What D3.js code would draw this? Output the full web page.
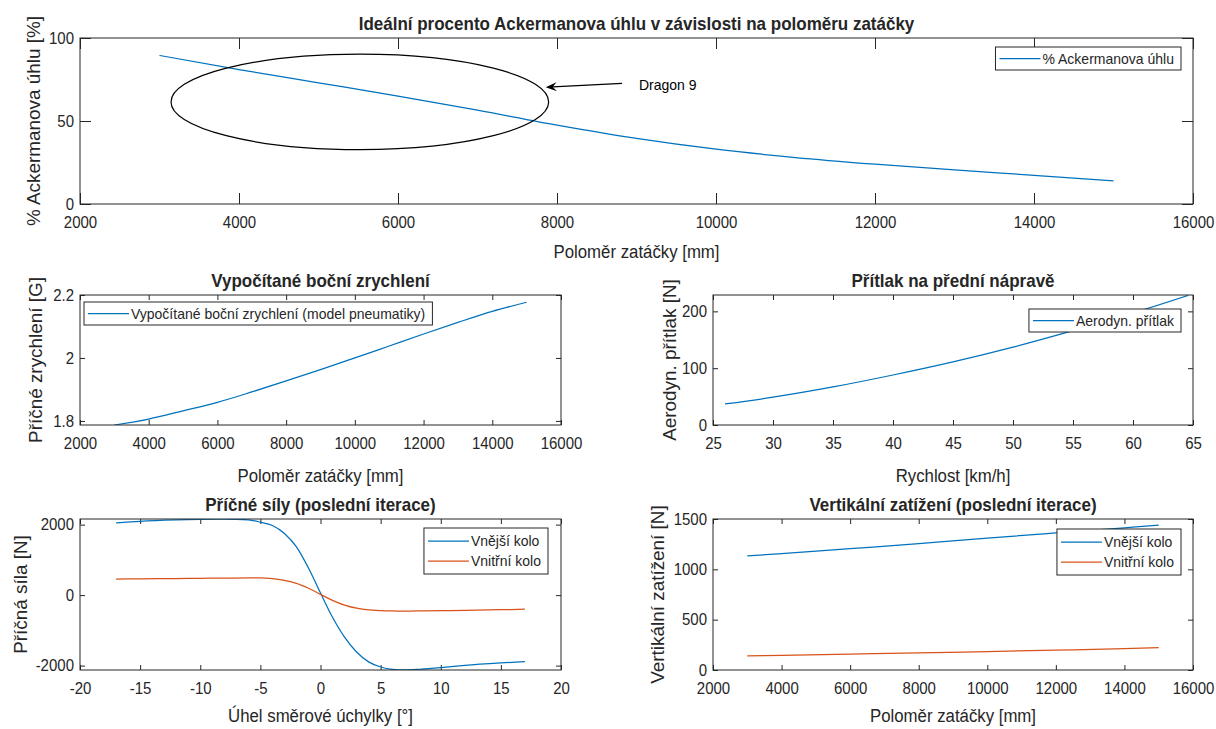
<!DOCTYPE html>
<html>
<head>
<meta charset="utf-8">
<script src="https://cdn.jsdelivr.net/npm/d3@7"></script>
<style>
  html, body { margin: 0; padding: 0; background: #ffffff; }
  svg text { font-family: "Liberation Sans", Arial, Helvetica, sans-serif; fill: #262626; }
</style>
</head>
<body>
<svg id="fig" width="1216" height="729"></svg>
<script>
// ---- Ideal Ackermann percentage vs. turn radius ----
const ackRadius  = [3000, 4000, 5000, 6000, 7000, 8000, 9000, 10000, 11000, 12000, 13000, 14000, 15000];
const ackPercent = [89.5, 81, 73, 65, 56.5, 47.5, 39.5, 33, 28, 24, 20.5, 17.3, 14];

// ---- Lateral acceleration from the tyre model ----
const accRadius  = [3000, 4000, 5000, 6000, 7000, 8000, 9000, 10000, 11000, 12000, 13000, 14000, 15000];
const accLateral = [1.787, 1.806, 1.832, 1.859, 1.892, 1.927, 1.963, 2.0, 2.038, 2.076, 2.113, 2.148, 2.177];

// ---- Front-axle aerodynamic downforce ----
const speedKmh   = [26, 30, 35, 40, 45, 50, 55, 60, 64.6];
const downforceN = [37, 49, 67, 88, 111, 137, 166, 197, 228];

// ---- Lateral tyre forces vs. slip angle (last iteration) ----
const slipDeg = [-17, -15, -12, -10, -8, -6, -5, -4, -3, -2, -1, 0, 1, 2, 3, 4, 5, 6, 7, 8, 10, 12, 15, 17];
const fyOuter = [2050, 2095, 2135, 2152, 2158, 2135, 2070, 1975, 1750, 1370, 770, 60, -630, -1195, -1615, -1895, -2040, -2105, -2121, -2110, -2055, -1995, -1925, -1885];
const fyInner = [456, 462, 470, 476, 482, 490, 490, 470, 418, 335, 195, 20, -150, -285, -372, -422, -442, -450, -452, -450, -442, -432, -414, -400];

// ---- Vertical wheel loads vs. turn radius (last iteration) ----
const loadRadius = [3000, 4000, 6000, 8000, 10000, 12000, 14000, 15000];
const fzOuter    = [1133, 1155, 1205, 1255, 1310, 1362, 1413, 1438];
const fzInner    = [140, 146, 158, 170, 183, 197, 212, 223];

// ---- Tick values and tick labels ----
const radiusTicks  = [2000, 4000, 6000, 8000, 10000, 12000, 14000, 16000];
const radiusLabels = ["2000", "4000", "6000", "8000", "10000", "12000", "14000", "16000"];
const pctTicks     = [0, 50, 100];
const pctLabels    = ["0", "50", "100"];
const accTicks     = [1.8, 2, 2.2];
const accLabels    = ["1.8", "2", "2.2"];
const speedTicks   = [25, 30, 35, 40, 45, 50, 55, 60, 65];
const speedLabels  = ["25", "30", "35", "40", "45", "50", "55", "60", "65"];
const downTicks    = [0, 100, 200];
const downLabels   = ["0", "100", "200"];
const slipTicks    = [-20, -15, -10, -5, 0, 5, 10, 15, 20];
const slipLabels   = ["-20", "-15", "-10", "-5", "0", "5", "10", "15", "20"];
const fyTicks      = [-2000, 0, 2000];
const fyLabels     = ["-2000", "0", "2000"];
const fzTicks      = [0, 500, 1000, 1500];
const fzLabels     = ["0", "500", "1000", "1500"];

const BLUE = "#0072BD";
const ORANGE = "#D95319";
const INK = "#262626";
const FONT = '"Liberation Sans", Arial, Helvetica, sans-serif';
const TEXT_STRETCH = 1.08;   // glyphs are drawn slightly taller than wide

const svg = d3.select("#fig");
svg.append("rect").attr("width", 1216).attr("height", 729).attr("fill", "#ffffff");

// Place a text element at (x, y) with the vertical glyph stretch applied.
function placeText(sel, x, y, rotate) {
  sel.attr("x", 0).attr("y", 0)
     .attr("transform", `translate(${x},${y}) scale(1,${TEXT_STRETCH})` + (rotate ? ` rotate(${rotate})` : ""));
  return sel;
}

let clipId = 0;

function panel(o) {
  const g = svg.append("g");
  const x = d3.scaleLinear().domain(o.xDomain).range([o.left, o.right]);
  const y = d3.scaleLinear().domain(o.yDomain).range([o.bottom, o.top]);
  const tl = o.tickLen;

  g.append("rect")
    .attr("x", o.left).attr("y", o.top)
    .attr("width", o.right - o.left).attr("height", o.bottom - o.top)
    .attr("fill", "#ffffff");

  const styleAxis = sel => {
    sel.select(".domain").remove();
    sel.selectAll(".tick line").attr("stroke", INK).attr("stroke-width", 1);
    sel.selectAll(".tick text").attr("fill", INK).attr("font-size", 15).attr("font-family", FONT)
      .each(function () {
        const t = d3.select(this);
        placeText(t, +t.attr("x") || 0, +t.attr("y") || 0);
      });
  };

  g.append("g").attr("transform", `translate(0,${o.bottom})`)
    .call(d3.axisBottom(x).tickValues(o.xTicks).tickSize(-tl).tickPadding(12)
      .tickFormat((d, i) => o.xLabels[i]))
    .call(styleAxis);
  g.append("g").attr("transform", `translate(0,${o.top})`)
    .call(d3.axisTop(x).tickValues(o.xTicks).tickSize(-tl).tickFormat(""))
    .call(styleAxis);
  g.append("g").attr("transform", `translate(${o.left},0)`)
    .call(d3.axisLeft(y).tickValues(o.yTicks).tickSize(-tl).tickPadding(6)
      .tickFormat((d, i) => o.yLabels[i]))
    .call(styleAxis);
  g.append("g").attr("transform", `translate(${o.right},0)`)
    .call(d3.axisRight(y).tickValues(o.yTicks).tickSize(-tl).tickFormat(""))
    .call(styleAxis);

  // clip region for the data lines
  const cid = "clip" + (clipId++);
  g.append("clipPath").attr("id", cid).append("rect")
    .attr("x", o.left).attr("y", o.top)
    .attr("width", o.right - o.left).attr("height", o.bottom - o.top);

  const plot = g.append("g").attr("clip-path", `url(#${cid})`);
  o.series.forEach(s => {
    const line = d3.line()
      .x((d, i) => x(s.x[i]))
      .y((d, i) => y(s.y[i]))
      .curve(s.curve || d3.curveLinear);
    plot.append("path")
      .datum(s.y)
      .attr("d", line)
      .attr("fill", "none")
      .attr("stroke", s.color)
      .attr("stroke-width", 1.25)
      .attr("stroke-linejoin", "round");
  });

  // frame
  g.append("rect")
    .attr("x", o.left).attr("y", o.top)
    .attr("width", o.right - o.left).attr("height", o.bottom - o.top)
    .attr("fill", "none").attr("stroke", INK).attr("stroke-width", 1);

  // title
  placeText(g.append("text")
    .attr("text-anchor", "middle").attr("font-size", 17).attr("font-weight", "bold")
    .text(o.title), (o.left + o.right) / 2, o.top - 8);

  // x label
  placeText(g.append("text")
    .attr("dy", "0.35em").attr("text-anchor", "middle").attr("font-size", 16.8)
    .text(o.xTitle), (o.left + o.right) / 2, o.bottom + o.xTitleGap);

  // y label
  placeText(g.append("text")
    .attr("dy", "0.35em").attr("text-anchor", "middle").attr("font-size", 17.5)
    .text(o.yTitle), o.yTitleX, (o.top + o.bottom) / 2, -90);

  // legend
  if (o.legend) {
    const L = o.legend;
    const lg = g.append("g");
    const n = L.items.length;
    const h = n === 1 ? 23 : 46;
    const box = lg.append("rect").attr("fill", "#ffffff").attr("stroke", INK).attr("stroke-width", 1);
    const texts = [];
    let maxW = 0;
    L.items.forEach(it => {
      const t = lg.append("text").attr("font-size", 14).attr("dy", "0.35em").text(it.label);
      texts.push(t);
      maxW = Math.max(maxW, t.node().getComputedTextLength());
    });
    const w = 4 + 41 + 2 + maxW + 7;
    const bx = L.alignRight ? L.right - w : L.left;
    const by = L.top;
    box.attr("x", bx).attr("y", by).attr("width", w).attr("height", h);
    const first = (h - 20 * (n - 1)) / 2;
    L.items.forEach((it, i) => {
      const cy = by + first + 20 * i;
      lg.append("line")
        .attr("x1", bx + 4).attr("x2", bx + 45)
        .attr("y1", cy).attr("y2", cy)
        .attr("stroke", it.color).attr("stroke-width", 1.25);
      placeText(texts[i], bx + 47, cy);
    });
  }

  return { g, x, y };
}

// ---------- Top: Ackermann percentage ----------
const ackPanel = panel({
  left: 80, right: 1193, top: 38, bottom: 204, tickLen: 11, xTitleGap: 48,
  xDomain: [2000, 16000], yDomain: [0, 100],
  xTicks: radiusTicks, xLabels: radiusLabels,
  yTicks: pctTicks, yLabels: pctLabels,
  title: "Ideální procento Ackermanova úhlu v závislosti na poloměru zatáčky",
  xTitle: "Poloměr zatáčky [mm]",
  yTitle: "% Ackermanova úhlu [%]", yTitleX: 34,
  series: [{ x: ackRadius, y: ackPercent, color: BLUE, curve: d3.curveMonotoneX }],
  legend: { alignRight: true, right: 1181, top: 47,
            items: [{ label: "% Ackermanova úhlu", color: BLUE }] }
});

// Annotation: ellipse around the operating region, arrow and label
{
  const { g, x, y } = ackPanel;
  const cx = 5520, cy = 61.5, rx = 2375, ry = 28.75;
  g.append("ellipse")
    .attr("cx", x(cx)).attr("cy", y(cy))
    .attr("rx", x(cx + rx) - x(cx)).attr("ry", y(cy - ry) - y(cy))
    .attr("fill", "none").attr("stroke", "#000000").attr("stroke-width", 1.2);

  const tail = [x(8818), y(72.7)];
  const head = [x(7858), y(70.3)];
  const ang = Math.atan2(head[1] - tail[1], head[0] - tail[0]);
  const hl = 11, hw = 4.5, back = 7;
  const ux = Math.cos(ang), uy = Math.sin(ang);
  const px = -uy, py = ux;
  const bx = head[0] - ux * hl, byy = head[1] - uy * hl;
  g.append("line")
    .attr("x1", tail[0]).attr("y1", tail[1])
    .attr("x2", head[0] - ux * back).attr("y2", head[1] - uy * back)
    .attr("stroke", "#000000").attr("stroke-width", 1.2);
  g.append("path")
    .attr("d", `M${head[0]},${head[1]}` +
               `L${bx + px * hw},${byy + py * hw}` +
               `L${head[0] - ux * back},${head[1] - uy * back}` +
               `L${bx - px * hw},${byy - py * hw}Z`)
    .attr("fill", "#000000");
  placeText(g.append("text")
    .attr("dy", "0.35em").attr("font-size", 14).style("fill", "#000000")
    .text("Dragon 9"), x(9031), y(71.7));
}

// ---------- Middle left: lateral acceleration ----------
panel({
  left: 80, right: 561, top: 295, bottom: 425, tickLen: 5, xTitleGap: 51,
  xDomain: [2000, 16000], yDomain: [1.787, 2.2],
  xTicks: radiusTicks, xLabels: radiusLabels,
  yTicks: accTicks, yLabels: accLabels,
  title: "Vypočítané boční zrychlení",
  xTitle: "Poloměr zatáčky [mm]",
  yTitle: "Příčné zrychlení [G]", yTitleX: 36,
  series: [{ x: accRadius, y: accLateral, color: BLUE, curve: d3.curveMonotoneX }],
  legend: { alignRight: false, left: 84, top: 302,
            items: [{ label: "Vypočítané boční zrychlení (model pneumatiky)", color: BLUE }] }
});

// ---------- Middle right: downforce ----------
panel({
  left: 713, right: 1193, top: 295, bottom: 425, tickLen: 5, xTitleGap: 51,
  xDomain: [25, 65], yDomain: [0, 228.8],
  xTicks: speedTicks, xLabels: speedLabels,
  yTicks: downTicks, yLabels: downLabels,
  title: "Přítlak na přední nápravě",
  xTitle: "Rychlost [km/h]",
  yTitle: "Aerodyn. přítlak [N]", yTitleX: 670,
  series: [{ x: speedKmh, y: downforceN, color: BLUE, curve: d3.curveMonotoneX }],
  legend: { alignRight: true, right: 1181, top: 309,
            items: [{ label: "Aerodyn. přítlak", color: BLUE }] }
});

// ---------- Bottom left: lateral forces ----------
panel({
  left: 80, right: 561, top: 519, bottom: 670, tickLen: 5, xTitleGap: 46,
  xDomain: [-20, 20], yDomain: [-2125, 2160],
  xTicks: slipTicks, xLabels: slipLabels,
  yTicks: fyTicks, yLabels: fyLabels,
  title: "Příčné síly (poslední iterace)",
  xTitle: "Úhel směrové úchylky [°]",
  yTitle: "Příčná síla [N]", yTitleX: 21,
  series: [
    { x: slipDeg, y: fyOuter, color: BLUE, curve: d3.curveMonotoneX },
    { x: slipDeg, y: fyInner, color: ORANGE, curve: d3.curveMonotoneX }
  ],
  legend: { alignRight: true, right: 548, top: 528,
            items: [{ label: "Vnější kolo", color: BLUE }, { label: "Vnitřní kolo", color: ORANGE }] }
});

// ---------- Bottom right: vertical loads ----------
panel({
  left: 713, right: 1193, top: 519, bottom: 670, tickLen: 5, xTitleGap: 46,
  xDomain: [2000, 16000], yDomain: [0, 1500],
  xTicks: radiusTicks, xLabels: radiusLabels,
  yTicks: fzTicks, yLabels: fzLabels,
  title: "Vertikální zatížení (poslední iterace)",
  xTitle: "Poloměr zatáčky [mm]",
  yTitle: "Vertikální zatížení [N]", yTitleX: 658,
  series: [
    { x: loadRadius, y: fzOuter, color: BLUE, curve: d3.curveMonotoneX },
    { x: loadRadius, y: fzInner, color: ORANGE, curve: d3.curveMonotoneX }
  ],
  legend: { alignRight: true, right: 1181, top: 529,
            items: [{ label: "Vnější kolo", color: BLUE }, { label: "Vnitřní kolo", color: ORANGE }] }
});
</script>
</body>
</html>
